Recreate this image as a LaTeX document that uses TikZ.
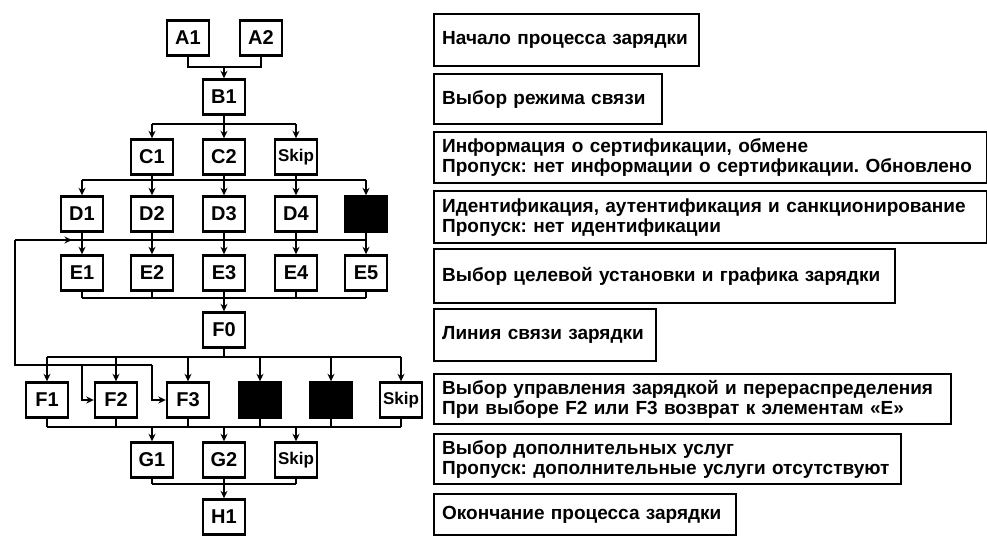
\documentclass[tikz,border=0pt]{standalone}
\usepackage{fontspec}
\setmainfont{Liberation Sans}
\usetikzlibrary{arrows.meta,decorations.markings}
\frenchspacing

\begin{document}
\begin{tikzpicture}[x=1pt, y=-1pt, line width=2.4pt,
  blk/.style={draw, line width=2.4pt, minimum width=42pt, minimum height=35pt,
    inner sep=0pt, font=\bfseries\fontsize{20}{20}\selectfont},
  skipblk/.style={blk, font=\bfseries\fontsize{17}{17}\selectfont},
  darkblk/.style={blk, fill=black},
  note/.style={draw, line width=2.4pt, anchor=north west, align=left,
    inner xsep=8pt, inner ysep=0pt, font=\bfseries\fontsize{19}{20}\selectfont},
  conn/.style={-{Stealth[length=7.5pt,width=7pt]}},
  midconn/.style={postaction={decorate},
    decoration={markings,mark=at position #1 with {\arrow{Stealth[length=7.5pt,width=7pt]}}}}]

  \useasboundingbox (0,0) rectangle (987,536);

  % Blocks
  \node[blk] (A1) at (188,38) {A1};
  \node[blk] (A2) at (261,38) {A2};
  \node[blk] (B1) at (224,97) {B1};
  \foreach \n/\x in {C1/152,C2/224}
    \node[blk] (\n) at (\x,157) {\n};
  \node[skipblk] (Cs) at (296,157) {Skip};
  \foreach \n/\x in {D1/82,D2/152,D3/224,D4/296}
    \node[blk] (\n) at (\x,214) {\n};
  \node[darkblk] (D5) at (366,214) {};
  \foreach \n/\x in {E1/82,E2/152,E3/224,E4/296,E5/366}
    \node[blk] (\n) at (\x,273) {\n};
  \node[blk] (F0) at (224,330) {F0};
  \foreach \n/\x in {F1/47,F2/116,F3/188}
    \node[blk] (\n) at (\x,400) {\n};
  \node[darkblk] (F4) at (260,400) {};
  \node[darkblk] (F5) at (331,400) {};
  \node[skipblk] (Fs) at (401,400) {Skip};
  \foreach \n/\x in {G1/152,G2/224}
    \node[blk] (\n) at (\x,460) {\n};
  \node[skipblk] (Gs) at (296,460) {Skip};
  \node[blk] (H1) at (224,517) {H1};

  % Bus levels
  \coordinate (ab) at (224,67);
  \coordinate (bc) at (224,124);
  \coordinate (cd) at (224,180);
  \coordinate (de) at (224,240);
  \coordinate (ef) at (224,298);
  \coordinate (ff) at (224,357);
  \coordinate (fg) at (224,427);
  \coordinate (gh) at (224,484);
  \coordinate (lb) at (15,365);
  \coordinate (lt) at (15,240);

  % A -> B
  \draw (A1.south) |- (ab) -| (A2.south);
  \draw[conn] (ab) -- (B1.north);

  % B -> C
  \draw (B1.south) -- (bc);
  \draw (C1.north |- bc) -- (Cs.north |- bc);
  \foreach \n in {C1,C2,Cs}
    \draw[conn] (\n.north |- bc) -- (\n.north);

  % C -> D
  \foreach \n in {C1,C2,Cs}
    \draw (\n.south) -- (\n.south |- cd);
  \draw (D1.north |- cd) -- (D5.north |- cd);
  \foreach \n in {D1,D2,D3,D4,D5}
    \draw[conn] (\n.north |- cd) -- (\n.north);

  % D -> E
  \foreach \n in {D1,D2,D3,D4,D5}
    \draw (\n.south) -- (\n.south |- de);
  \draw (E1.north |- de) -- (E5.north |- de);
  \foreach \n in {E1,E2,E3,E4,E5}
    \draw[conn] (\n.north |- de) -- (\n.north);

  % E -> F0
  \foreach \n in {E1,E2,E3,E4,E5}
    \draw (\n.south) -- (\n.south |- ef);
  \draw (E1.south |- ef) -- (E5.south |- ef);
  \draw[conn] (ef) -- (F0.north);

  % F0 -> F
  \draw (F0.south) -- (ff);
  \draw (F1.north |- ff) -- (Fs.north |- ff);
  \foreach \n in {F1,F2,F3,F4,F5,Fs}
    \draw[conn] (\n.north |- ff) -- (\n.north);

  % return to E
  \draw[conn] (E1 |- lb) -- (E1 |- F2.west) -- (F2.west);
  \draw[conn] (E2 |- lb) -- (E2 |- F3.west) -- (F3.west);
  \draw (E2 |- lb) -- (lb) -- (lt);
  \draw[midconn=.85] (lt) -- (E1 |- lt);

  % F -> G
  \foreach \n in {F1,F2,F3,F4,F5,Fs}
    \draw (\n.south) -- (\n.south |- fg);
  \draw (F1.south |- fg) -- (Fs.south |- fg);
  \foreach \n in {G1,G2,Gs}
    \draw[conn] (\n.north |- fg) -- (\n.north);

  % G -> H
  \foreach \n in {G1,G2,Gs}
    \draw (\n.south) -- (\n.south |- gh);
  \draw (G1.south |- gh) -- (Gs.south |- gh);
  \draw[conn] (gh) -- (H1.north);

  % Notes
  \foreach \n/\t/\tw/\h/\txt in {
    R1/13/249/52/{Начало процесса зарядки},
    R2/73/212/50/{Выбор режима связи},
    R3/131/537/51/{Информация о сертификации, обмене\\Пропуск: нет информации о сертификации. Обновлено},
    R4/190/537/52/{Идентификация, аутентификация и санкционирование\\Пропуск: нет идентификации},
    R5/248/445/54/{Выбор целевой установки и графика зарядки},
    R6/308/206/52/{Линия связи зарядки},
    R7/373/501/50/{Выбор управления зарядкой и перераспределения\\При выборе F2 или F3 возврат к элементам «E»},
    R8/433/451/50/{Выбор дополнительных услуг\\Пропуск: дополнительные услуги отсутствуют},
    R9/493/286/41/{Окончание процесса зарядки}}
    \node[note, text width=\tw pt, minimum height=\h pt] (\n) at (433,\t) {\txt};
\end{tikzpicture}
\end{document}
